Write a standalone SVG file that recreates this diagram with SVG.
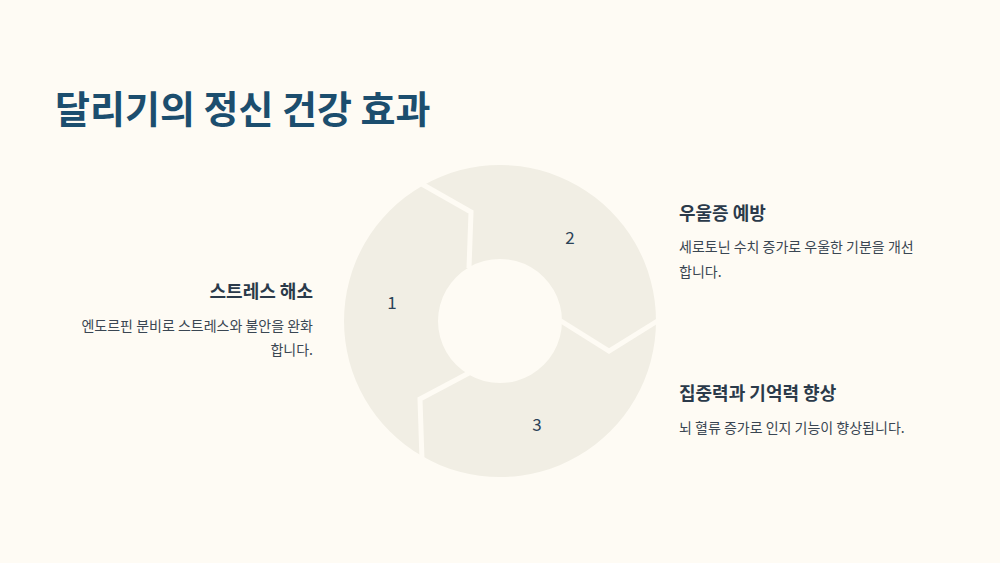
<svg xmlns="http://www.w3.org/2000/svg" width="1000" height="563" viewBox="0 0 1000 563">
<style>
text{font-family:"Noto Sans CJK KR","Noto Sans",sans-serif}
.h{font-size:18px;font-weight:700;fill:#2b3a4a}
.b{font-size:14px;fill:#3a4652}
.n{font-size:17px;fill:#2b4257}
.gap{fill:none;stroke:#fefbf4;stroke-width:5;stroke-linejoin:miter}
</style>
<rect width="1000" height="563" fill="#fefbf4"/>
<text x="55" y="123" font-size="38" font-weight="700" fill="#1c4e6e">달리기의 정신 건강 효과</text>
<g id="ring">
<path d="M500,165a156,156 0 1,0 0.01,0ZM500,259a62,62 0 1,1 -0.01,0Z" fill="#f1eee4" fill-rule="evenodd"/>
</g>
<g id="connectors">
<polyline class="gap" points="420,183 471,212 469,268"/>
<polyline class="gap" points="561,321 609,351 659,320"/>
<polyline class="gap" points="469,373 420,399 422,460"/>
</g>
<g id="n1"><text class="n" x="392" y="309" text-anchor="middle">1</text>
<text class="h" x="313" y="298" text-anchor="end">스트레스 해소</text>
<text class="b" x="313" y="331" text-anchor="end">엔도르핀 분비로 스트레스와 불안을 완화</text>
<text class="b" x="313" y="355" text-anchor="end">합니다.</text></g>
<g id="n2"><text class="n" x="570" y="244" text-anchor="middle">2</text>
<text class="h" x="679" y="220">우울증 예방</text>
<text class="b" x="679" y="252">세로토닌 수치 증가로 우울한 기분을 개선</text>
<text class="b" x="679" y="277">합니다.</text></g>
<g id="n3"><text class="n" x="537" y="431" text-anchor="middle">3</text>
<text class="h" x="679" y="400">집중력과 기억력 향상</text>
<text class="b" x="679" y="433">뇌 혈류 증가로 인지 기능이 향상됩니다.</text></g>
</svg>
